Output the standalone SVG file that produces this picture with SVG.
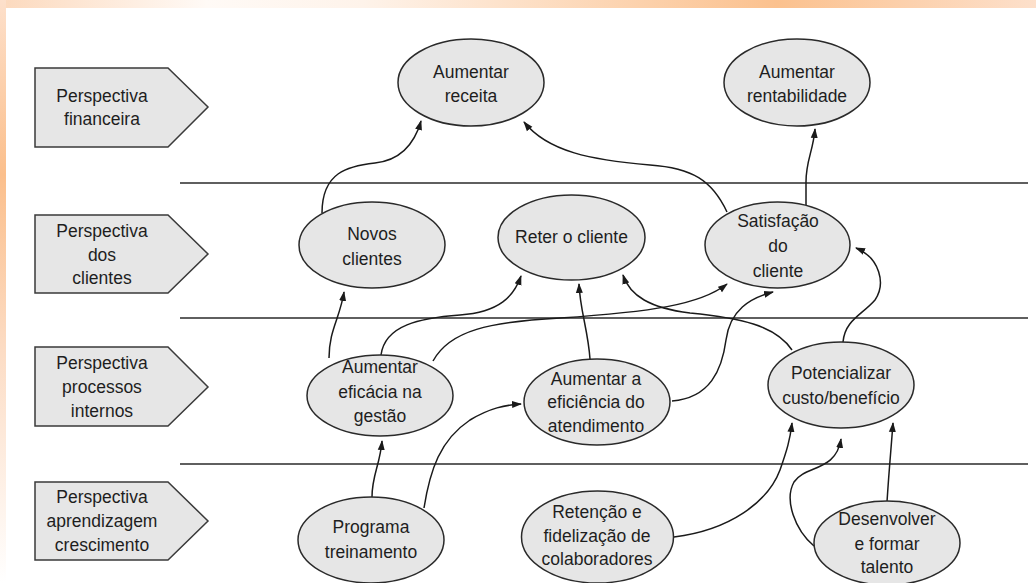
<svg xmlns="http://www.w3.org/2000/svg" width="1036" height="583" viewBox="0 0 1036 583">
<defs>
<linearGradient id="topg" x1="0" y1="0" x2="1036" y2="0" gradientUnits="userSpaceOnUse">
<stop offset="0" stop-color="#fcd9bd"/>
<stop offset="0.2" stop-color="#fffaf6"/>
<stop offset="0.35" stop-color="#fef3ea"/>
<stop offset="0.75" stop-color="#fbc18e"/>
<stop offset="1" stop-color="#fde0cb"/>
</linearGradient>
<linearGradient id="leftg" x1="0" y1="0" x2="0" y2="583" gradientUnits="userSpaceOnUse">
<stop offset="0" stop-color="#fde0cb"/>
<stop offset="0.3" stop-color="#fbbf8c"/>
<stop offset="0.6" stop-color="#fcdcc4"/>
<stop offset="1" stop-color="#ffffff"/>
</linearGradient>
<marker id="ah" markerWidth="10" markerHeight="8" refX="9" refY="4" orient="auto" markerUnits="userSpaceOnUse">
<path d="M0,0.5 L10,4 L0,7.5 Z" fill="#1a1a1a"/>
</marker>
<style>
.pent{fill:#e6e6e6;stroke:#3a3a3a;stroke-width:1.5}
.node{fill:#e6e6e6;stroke:#2a2a2a;stroke-width:1.5}
.sep{stroke:#2a2a2a;stroke-width:1.5}
.t{font-family:"Liberation Sans",Arial,sans-serif;font-size:17.5px;fill:#1e1e1e;text-anchor:middle}
.c{fill:none;stroke:#1a1a1a;stroke-width:1.5;marker-end:url(#ah)}
</style>
</defs>
<rect x="0" y="0" width="1036" height="583" fill="#ffffff"/>
<rect x="0" y="0" width="1036" height="8" fill="url(#topg)"/>
<rect x="0" y="0" width="6" height="583" fill="url(#leftg)"/>

<g id="separators">
<line class="sep" x1="180" y1="183" x2="1028" y2="183"/>
<line class="sep" x1="180" y1="318" x2="1028" y2="318"/>
<line class="sep" x1="180" y1="464" x2="1028" y2="464"/>
</g>

<g id="persp-financeira">
<polygon class="pent" points="35,68 168,68 208,107 168,147 35,147"/>
<text class="t" x="102" y="102">Perspectiva</text>
<text class="t" x="102" y="125">financeira</text>
</g>
<g id="persp-clientes">
<polygon class="pent" points="35,215 168,215 208,254 168,293 35,293"/>
<text class="t" x="102" y="237">Perspectiva</text>
<text class="t" x="102" y="261">dos</text>
<text class="t" x="102" y="284">clientes</text>
</g>
<g id="persp-processos">
<polygon class="pent" points="35,347 168,347 208,387 168,426 35,426"/>
<text class="t" x="102" y="369">Perspectiva</text>
<text class="t" x="102" y="393">processos</text>
<text class="t" x="102" y="417">internos</text>
</g>
<g id="persp-aprendizagem">
<polygon class="pent" points="35,482 168,482 208,521 168,560 35,560"/>
<text class="t" x="102" y="503">Perspectiva</text>
<text class="t" x="102" y="527">aprendizagem</text>
<text class="t" x="102" y="551">crescimento</text>
</g>

<g id="connectors">
<path class="c" d="M322,213 C322,172 348,166 375,163 C402,160 415,142 421,121"/>
<path class="c" d="M727,212 C712,180 692,168 650,165 C592,160 548,152 524,122"/>
<path class="c" d="M806,205 L806,182 C806,160 813,152 815,129"/>
<path class="c" d="M329,358 C329,330 340,318 344,292"/>
<path class="c" d="M381,355 C385,325 420,318 460,315 C500,312 514,296 521,276"/>
<path class="c" d="M433,361 C450,330 490,322 560,318 C650,312 700,305 727,284"/>
<path class="c" d="M590,359 C588,330 580,310 579,284"/>
<path class="c" d="M672,401 C710,398 722,370 726,340 C730,310 750,298 773,292"/>
<path class="c" d="M792,350 C775,325 740,318 690,313 C650,308 630,296 623,275"/>
<path class="c" d="M843,342 C845,320 862,315 875,300 C886,284 880,258 856,248"/>
<path class="c" d="M372,497 C372,475 380,465 382,441"/>
<path class="c" d="M424,508 C430,470 440,440 470,420 C490,408 505,405 521,404"/>
<path class="c" d="M674,537 C730,530 768,502 780,470 C787,450 790,440 792,423"/>
<path class="c" d="M814,546 C795,530 784,500 794,482 C805,465 836,472 841,439"/>
<path class="c" d="M887,502 C889,470 891,450 893,423"/>
</g>

<g id="aumentar-receita">
<ellipse class="node" cx="471" cy="82.5" rx="73" ry="43.5"/>
<text class="t" x="471" y="78">Aumentar</text>
<text class="t" x="471" y="102">receita</text>
</g>
<g id="aumentar-rentabilidade">
<ellipse class="node" cx="797" cy="82.5" rx="73" ry="43.5"/>
<text class="t" x="797" y="78">Aumentar</text>
<text class="t" x="797" y="102">rentabilidade</text>
</g>
<g id="novos-clientes">
<ellipse class="node" cx="372" cy="245" rx="73" ry="43"/>
<text class="t" x="372" y="240">Novos</text>
<text class="t" x="372" y="265">clientes</text>
</g>
<g id="reter-cliente">
<ellipse class="node" cx="571.5" cy="237.5" rx="73.5" ry="42.5"/>
<text class="t" x="571.5" y="243">Reter o cliente</text>
</g>
<g id="satisfacao-cliente">
<ellipse class="node" cx="777.5" cy="245" rx="72.5" ry="43"/>
<text class="t" x="778" y="227">Satisfação</text>
<text class="t" x="778" y="252">do</text>
<text class="t" x="778" y="277">cliente</text>
</g>
<g id="aumentar-eficacia">
<ellipse class="node" cx="380" cy="395.5" rx="73" ry="40.5"/>
<text class="t" x="380" y="373">Aumentar</text>
<text class="t" x="380" y="398">eficácia na</text>
<text class="t" x="380" y="422">gestão</text>
</g>
<g id="aumentar-eficiencia">
<ellipse class="node" cx="597" cy="402" rx="73" ry="43"/>
<text class="t" x="596" y="385">Aumentar a</text>
<text class="t" x="596" y="408">eficiência do</text>
<text class="t" x="596" y="432">atendimento</text>
</g>
<g id="potencializar">
<ellipse class="node" cx="841" cy="385" rx="73" ry="43"/>
<text class="t" x="841" y="379">Potencializar</text>
<text class="t" x="841" y="404">custo/benefício</text>
</g>
<g id="programa-treinamento">
<ellipse class="node" cx="371" cy="540" rx="73" ry="43"/>
<text class="t" x="371" y="533">Programa</text>
<text class="t" x="371" y="558">treinamento</text>
</g>
<g id="retencao">
<ellipse class="node" cx="597.5" cy="537" rx="76" ry="46"/>
<text class="t" x="597" y="518">Retenção e</text>
<text class="t" x="597" y="542">fidelização de</text>
<text class="t" x="597" y="565">colaboradores</text>
</g>
<g id="desenvolver-talento">
<ellipse class="node" cx="887" cy="543" rx="73" ry="42"/>
<text class="t" x="887" y="525">Desenvolver</text>
<text class="t" x="887" y="550">e formar</text>
<text class="t" x="887" y="573">talento</text>
</g>
</svg>
